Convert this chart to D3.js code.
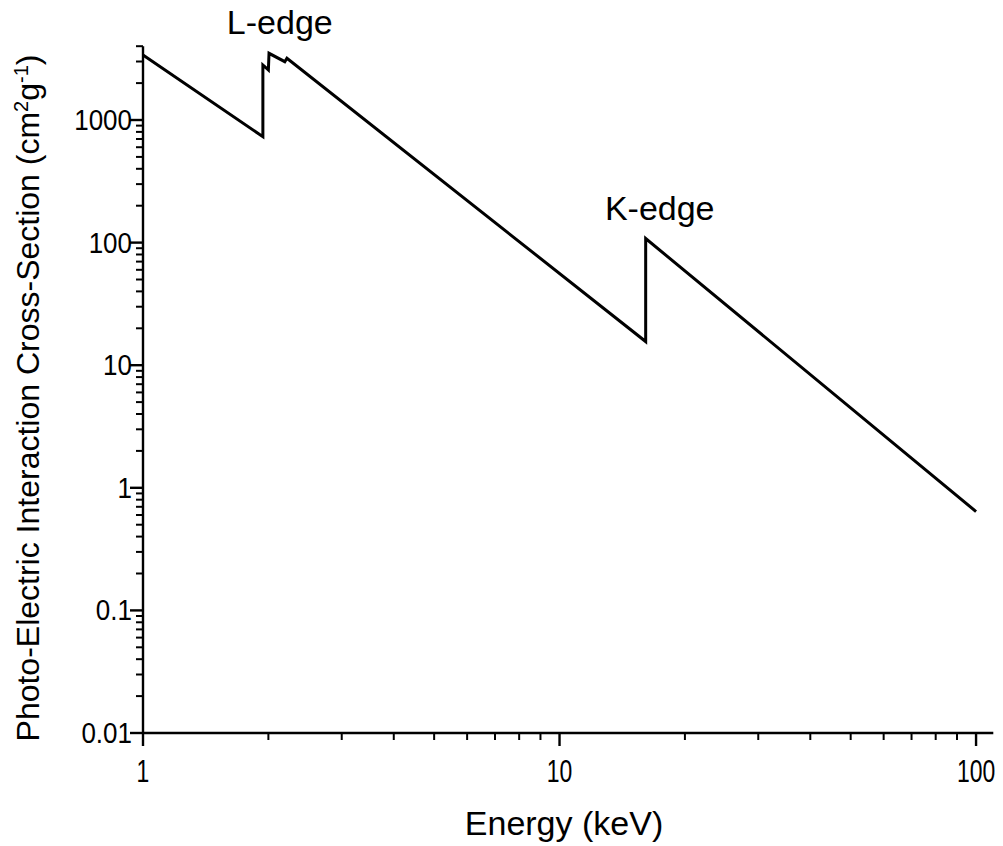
<!DOCTYPE html>
<html>
<head>
<meta charset="utf-8">
<script src="https://cdn.jsdelivr.net/npm/d3@7"></script>
<style>
  html, body { margin: 0; padding: 0; background: #fff; }
  svg { display: block; }
  svg text { font-family: "Liberation Sans", Arial, sans-serif; }
</style>
</head>
<body>
<svg id="chart" width="1003" height="846"></svg>
<script>
// Photo-electric cross-section of strontium: L-edges near 2 keV, K-edge at 16.1 keV
const energy = [1, 1.94, 1.94, 2.0, 2.007, 2.19, 2.216, 16.1, 16.1, 100];
const crossSection = [3390, 731, 2810, 2560, 3500, 2990, 3190, 15.6, 108, 0.64];

const xMajorTicks = [1, 10, 100];
const yMajorTicks = [0.01, 0.1, 1, 10, 100, 1000];
const xTickLabels = ["1", "10", "100"];
const yTickLabels = ["0.01", "0.1", "1", "10", "100", "1000"];

const edgeLabels = [
  { text: "L-edge", e: 2.13, v: 3500 },
  { text: "K-edge", e: 17.4, v: 108 }
];

const svg = d3.select("#chart");

const x = d3.scaleLog().domain([1, 110]).range([143, 993.3]);
const y = d3.scaleLog().domain([0.01, 4000]).range([733, 46.2]);

// minor ticks: 2..9 times each decade
function minorTicks(lo, hi) {
  const out = [];
  for (let d = lo; d < hi * 10; d *= 10) {
    for (let k = 2; k <= 9; k++) {
      const v = d * k;
      if (v <= hi) out.push(v);
    }
  }
  return out;
}
const xMinor = minorTicks(1, 110);
const yMinor = minorTicks(0.01, 4000);

const axisStroke = 2.4;

// x axis
const gx = svg.append("g").attr("transform", "translate(0,733)");
gx.append("line").attr("x1", x.range()[0] - 1).attr("x2", x.range()[1])
  .attr("stroke", "#000").attr("stroke-width", axisStroke);
gx.selectAll("line.major").data(xMajorTicks).join("line")
  .attr("class", "major")
  .attr("x1", d => x(d)).attr("x2", d => x(d)).attr("y1", 0).attr("y2", 13)
  .attr("stroke", "#000").attr("stroke-width", axisStroke);
gx.selectAll("line.minor").data(xMinor).join("line")
  .attr("class", "minor")
  .attr("x1", d => x(d)).attr("x2", d => x(d)).attr("y1", 0).attr("y2", 7)
  .attr("stroke", "#000").attr("stroke-width", 2);
gx.selectAll("text").data(xMajorTicks).join("text")
  .attr("transform", d => `translate(${x(d)},49) scale(0.82,1.15)`)
  .attr("text-anchor", "middle")
  .attr("font-size", 28)
  .attr("fill", "#000")
  .text((d, i) => xTickLabels[i]);

// y axis
const gy = svg.append("g").attr("transform", "translate(143,0)");
gy.append("line").attr("y1", y.range()[0] + 1).attr("y2", y.range()[1])
  .attr("stroke", "#000").attr("stroke-width", axisStroke);
gy.selectAll("line.major").data(yMajorTicks).join("line")
  .attr("class", "major")
  .attr("y1", d => y(d)).attr("y2", d => y(d)).attr("x1", 0).attr("x2", -13)
  .attr("stroke", "#000").attr("stroke-width", axisStroke);
gy.selectAll("line.minor").data(yMinor).join("line")
  .attr("class", "minor")
  .attr("y1", d => y(d)).attr("y2", d => y(d)).attr("x1", 0).attr("x2", -7)
  .attr("stroke", "#000").attr("stroke-width", 2);
gy.selectAll("text").data(yMajorTicks).join("text")
  .attr("transform", d => `translate(-11,${y(d) + 10}) scale(1,1.12)`)
  .attr("text-anchor", "end")
  .attr("font-size", 26)
  .attr("fill", "#000")
  .text((d, i) => yTickLabels[i]);

// curve
const line = d3.line().x(d => x(d[0])).y(d => y(d[1]));
const pts = energy.map((e, i) => [e, crossSection[i]]);
svg.append("path").datum(pts)
  .attr("d", line)
  .attr("fill", "none")
  .attr("stroke", "#000")
  .attr("stroke-width", 3)
  .attr("stroke-linejoin", "miter");

// edge annotations
svg.selectAll("text.edge").data(edgeLabels).join("text")
  .attr("class", "edge")
  .attr("x", d => x(d.e))
  .attr("y", d => y(d.v) - 19)
  .attr("text-anchor", "middle")
  .attr("font-size", 34)
  .attr("fill", "#000")
  .text(d => d.text);

// axis titles
svg.append("text")
  .attr("x", 564).attr("y", 835)
  .attr("text-anchor", "middle")
  .attr("font-size", 34)
  .attr("fill", "#000")
  .text("Energy (keV)");

const yTitle = svg.append("text")
  .attr("transform", "translate(39,398) rotate(-90)")
  .attr("text-anchor", "middle")
  .attr("font-size", 32)
  .attr("fill", "#000");
yTitle.append("tspan").text("Photo-Electric Interaction Cross-Section (cm");
yTitle.append("tspan").attr("dy", -11).attr("font-size", 20).text("2");
yTitle.append("tspan").attr("dy", 11).text("g");
yTitle.append("tspan").attr("dy", -11).attr("font-size", 20).text("-1");
yTitle.append("tspan").attr("dy", 11).text(")");
</script>
</body>
</html>
